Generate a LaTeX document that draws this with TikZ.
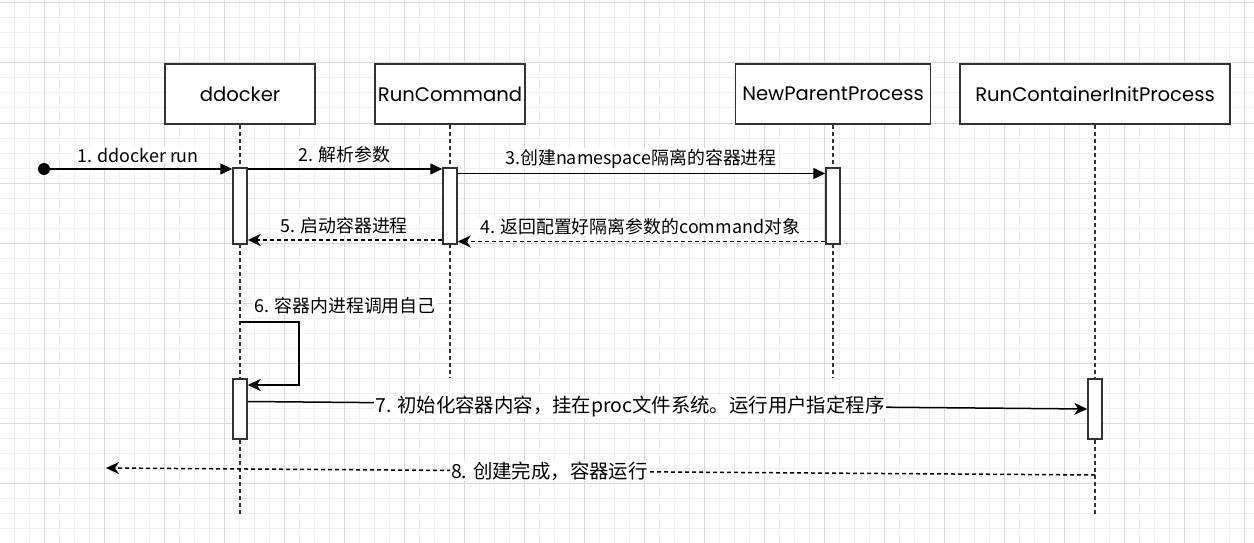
\documentclass[tikz,border=0pt]{standalone}
\usepackage{fontspec}
\usetikzlibrary{arrows.meta,calc}
\newfontfamily\cjk{Noto Sans CJK SC}
\newfontfamily\headfont{Poppins}
\definecolor{gridmajor}{HTML}{DADADA}
\definecolor{gridminor}{HTML}{F0F0F0}
\definecolor{boxline}{HTML}{333333}
\begin{document}
\begin{tikzpicture}[x=1pt,y=-1pt,
  head/.style={draw=boxline, line width=1.5pt, fill=white, minimum width=#1, minimum height=60pt, inner sep=0pt, font=\headfont\fontsize{19.6}{23}\selectfont},
  act/.style={draw=boxline, line width=1.5pt, fill=white, minimum width=14pt, minimum height=#1, inner sep=0pt},
  life/.style={draw=boxline, line width=1.5pt, dash pattern=on 4pt off 3pt},
  call/.style={line width=1.5pt, -{Triangle[length=12pt,width=11pt]}},
  reply/.style={line width=1.5pt, -{Stealth[length=13pt,width=12pt,inset=4pt]}},
  retn/.style={reply, dash pattern=on 4pt off 3pt},
  lbl/.style={fill=white, inner sep=1pt, font=\cjk\fontsize{17.9}{20}\selectfont},
  biglbl/.style={fill=white, inner sep=1pt, font=\cjk\fontsize{19.4}{22}\selectfont},
  gmin/.style={draw=gridminor, line width=1pt},
  gmaj/.style={draw=gridmajor, line width=1pt},
]
\useasboundingbox (0,0) rectangle (1254,543);
\fill[white] (0,0) rectangle (1254,543);
% grid
\foreach \x in {14,29,...,1254} \draw[gmin] (\x,0) -- (\x,543);
\foreach \y in {3,18,...,543} \draw[gmin] (0,\y) -- (1254,\y);
\foreach \x in {44,104,...,1254} \draw[gmaj] (\x,0) -- (\x,543);
\foreach \y in {3,63,...,543} \draw[gmaj] (0,\y) -- (1254,\y);

% lifeline heads
\node[head=150pt] (h1) at (240,94) {ddocker};
\node[head=150pt] (h2) at (450,94) {RunCommand};
\node[head=195pt] (h3) at (833,94) {NewParentProcess};
\node[head=270pt] (h4) at (1095,94) {RunContainerInitProcess};

% lifeline ends
\coordinate (e1) at (240,515);
\coordinate (e2) at (450,378);
\coordinate (e3) at (833,378);
\coordinate (e4) at (1095,515);
\draw[life] (h1.south) -- (e1);
\draw[life] (h2.south) -- (e2);
\draw[life] (h3.south) -- (e3);
\draw[life] (h4.south) -- (e4);

% activations
\node[act=76pt] (a1) at (240,206) {};
\node[act=76pt] (b1) at (450,206) {};
\node[act=76pt] (c1) at (833,206) {};
\node[act=60pt] (a2) at (240,409) {};
\node[act=60pt] (d1) at (1095,409) {};

% message y levels
\coordinate (s) at (44,169);
\coordinate (m2) at (0,169);
\coordinate (m3) at (0,173.5);
\coordinate (m4) at (0,241.5);
\coordinate (m5) at (0,240);
\coordinate (m6s) at (240,322);
\coordinate (m6r) at (299,0);
\coordinate (m6e) at (0,385);
\coordinate (m7a) at (0,401.5);
\coordinate (m7b) at (0,409);
\coordinate (m8s) at (1095,475);
\coordinate (m8e) at (106,468);

% 1
\fill (s) circle (6pt);
\draw[call] (s) -- (s -| a1.west);
\node[lbl] (l1) at (138,155) {1. ddocker run};
% 2
\draw[call] (a1.east |- m2) -- (b1.west |- m2);
\node[lbl] (l2) at (344,155) {2. 解析参数};
% 3
\draw[call] (b1.east |- m3) -- (c1.west |- m3);
\node[lbl] (l3) at (641,159) {3.创建namespace隔离的容器进程};
% 4
\draw[retn] (c1.west |- m4) -- (b1.east |- m4);
\node[lbl] (l4) at (640,227) {4. 返回配置好隔离参数的command对象};
% 5
\draw[retn] (b1.west |- m5) -- (a1.east |- m5);
\node[lbl] (l5) at (344,226) {5. 启动容器进程};
% 6
\draw[reply] (m6s) -- (m6s -| m6r) -- (m6r |- m6e) -- (a2.east |- m6e);
\node[lbl] (l6) at (345,306) {6. 容器内进程调用自己};
% 7
\draw[reply] (a2.east |- m7a) -- (d1.west |- m7b);
\node[biglbl] (l7) at (630,407) {7. 初始化容器内容，挂在proc文件系统。运行用户指定程序};
% 8
\draw[retn] (m8s) -- (m8e);
\node[biglbl] (l8) at (549.5,471) {8. 创建完成，容器运行};
\end{tikzpicture}
\end{document}
